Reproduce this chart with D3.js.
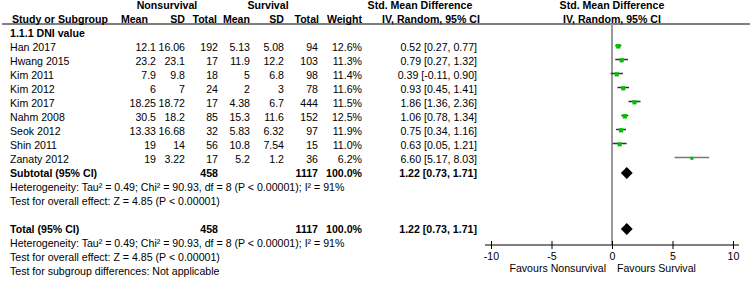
<!DOCTYPE html>
<html>
<head>
<meta charset="utf-8">
<script src="https://cdn.jsdelivr.net/npm/d3@7"></script>
<style>
  body { margin: 0; background: #fff; }
  text { font-family: "Liberation Sans", Arial, sans-serif; font-size: 10.6px; fill: #000; }
  .b { font-weight: bold; }
</style>
</head>
<body>
<div id="plot"></div>
<script>
// study rows
const studies = ["Han 2017", "Hwang 2015", "Kim 2011", "Kim 2012", "Kim 2017", "Nahm 2008", "Seok 2012", "Shin 2011", "Zanaty 2012"];
const nsMean = ["12.1", "23.2", "7.9", "6", "18.25", "30.5", "13.33", "19", "19"];
const nsSD = ["16.06", "23.1", "9.8", "7", "18.72", "18.2", "16.68", "14", "3.22"];
const nsTotal = [192, 17, 18, 24, 17, 85, 32, 56, 17];
const sMean = ["5.13", "11.9", "5", "2", "4.38", "15.3", "5.83", "10.8", "5.2"];
const sSD = ["5.08", "12.2", "6.8", "3", "6.7", "11.6", "6.32", "7.54", "1.2"];
const sTotal = [94, 103, 98, 78, 444, 152, 97, 15, 36];
const weight = [12.6, 11.3, 11.4, 11.6, 11.5, 12.5, 11.9, 11.0, 6.2];
const smd = [0.52, 0.79, 0.39, 0.93, 1.86, 1.06, 0.75, 0.63, 6.60];
const ciLow = [0.27, 0.27, -0.11, 0.45, 1.36, 0.78, 0.34, 0.05, 5.17];
const ciHigh = [0.77, 1.32, 0.90, 1.41, 2.36, 1.34, 1.16, 1.21, 8.03];

// pooled result
const pooled = {est: 1.22, lo: 0.73, hi: 1.71};
const nsSum = 458, sSum = 1117;
const hetText = "Heterogeneity: Tau\u00b2 = 0.49; Chi\u00b2 = 90.93, df = 8 (P < 0.00001); I\u00b2 = 91%";
const effText = "Test for overall effect: Z = 4.85 (P < 0.00001)";
const subText = "Test for subgroup differences: Not applicable";
const ticks = [-10, -5, 0, 5, 10];

const W = 750, H = 281;
const svg = d3.select('#plot').append('svg').attr('width', W).attr('height', H);

const rowH = 14;
const rowY = i => 33 + rowH * i;   // i = 0 is the subgroup title
const x = d3.scaleLinear().domain([-10, 10]).range([491, 733]);
const sq = d3.scaleSqrt().domain([0, 12.6]).range([0, 4.4]);
const fmt = d => d.toFixed(2);
const ciStr = (e, l, h) => fmt(e) + " [" + fmt(l) + ", " + fmt(h) + "]";

function txt(str, xp, yp, anchor, bold) {
  svg.append('text').attr('x', xp).attr('y', yp + 4)
    .attr('text-anchor', anchor || 'start')
    .attr('class', bold ? 'b' : null)
    .text(str);
}

// header
txt("Nonsurvival", 167, 5, 'middle', true);
txt("Survival", 268, 5, 'middle', true);
txt("Std. Mean Difference", 420, 5, 'middle', true);
txt("Std. Mean Difference", 612, 5, 'middle', true);
const h2 = 19;
txt("Study or Subgroup", 12, h2, 'start', true);
[["Mean", 148], ["SD", 185], ["Total", 217], ["Mean", 250], ["SD", 284], ["Total", 319], ["Weight", 362]]
  .forEach(d => txt(d[0], d[1], h2, 'end', true));
txt("IV, Random, 95% CI", 431, h2, 'middle', true);
txt("IV, Random, 95% CI", 612, h2, 'middle', true);
svg.append('line').attr('x1', 2).attr('x2', W).attr('y1', 24).attr('y2', 24)
  .attr('stroke', '#000').attr('stroke-width', 1.2);

// subgroup title
txt("1.1.1 DNI value", 10, rowY(0), 'start', true);

// study rows
studies.forEach((s, i) => {
  const y = rowY(i + 1);
  txt(s, 10, y);
  txt(nsMean[i], 156, y, 'end');
  txt(nsSD[i], 185, y, 'end');
  txt(nsTotal[i], 218, y, 'end');
  txt(sMean[i], 250, y, 'end');
  txt(sSD[i], 284, y, 'end');
  txt(sTotal[i], 318, y, 'end');
  txt(weight[i].toFixed(1) + "%", 362, y, 'end');
  txt(ciStr(smd[i], ciLow[i], ciHigh[i]), 477, y, 'end');
});

// subtotal and total blocks
function summary(label, startRow, withSub) {
  const y = rowY(startRow);
  txt(label, 10, y, 'start', true);
  txt(nsSum, 218, y, 'end', true);
  txt(sSum, 318, y, 'end', true);
  txt("100.0%", 362, y, 'end', true);
  txt(ciStr(pooled.est, pooled.lo, pooled.hi), 477, y, 'end', true);
  txt(hetText, 10, rowY(startRow + 1));
  txt(effText, 10, rowY(startRow + 2));
  if (withSub) txt(subText, 10, rowY(startRow + 3));
  svg.append('path')
    .attr('d', `M${x(pooled.lo)},${y} L${x(pooled.est)},${y - 6} L${x(pooled.hi)},${y} L${x(pooled.est)},${y + 6} Z`)
    .attr('fill', '#000');
}
summary("Subtotal (95% CI)", studies.length + 1, false);
summary("Total (95% CI)", studies.length + 5, true);

// zero line
const axisY = 245;
svg.append('line').attr('x1', x(0)).attr('x2', x(0)).attr('y1', 24).attr('y2', axisY)
  .attr('stroke', '#999').attr('stroke-width', 2);

// study CIs and squares
studies.forEach((s, i) => {
  const y = rowY(i + 1) - 1.5;
  svg.append('line').attr('x1', x(ciLow[i])).attr('x2', x(ciHigh[i]))
    .attr('y1', y).attr('y2', y).attr('stroke', i === 8 ? '#777' : '#333').attr('stroke-width', 1.5);
  const r = sq(weight[i]);
  svg.append('rect').attr('x', x(smd[i]) - r / 2).attr('y', y - r / 2 + 0.8)
    .attr('width', r).attr('height', r).attr('fill', '#00c000');
});

// axis
const ax = svg.append('g').attr('transform', `translate(0,${axisY})`)
  .call(d3.axisBottom(x).tickValues(ticks).tickSize(4).tickPadding(3).tickFormat(d => String(d)));
ax.select('.domain').remove();
ax.selectAll('.tick line').attr('y1', -4).attr('stroke', '#000');
ax.selectAll('.tick text').attr('font-size', 11).attr('font-family', '"Liberation Sans", Arial, sans-serif').attr('fill', '#000');
svg.append('line').attr('x1', x.range()[0] - 6).attr('x2', x.range()[1] + 6)
  .attr('y1', axisY).attr('y2', axisY).attr('stroke', '#000');

txt("Favours Nonsurvival", 606, 268, 'end');
txt("Favours Survival", 617, 268, 'start');
</script>
</body>
</html>
